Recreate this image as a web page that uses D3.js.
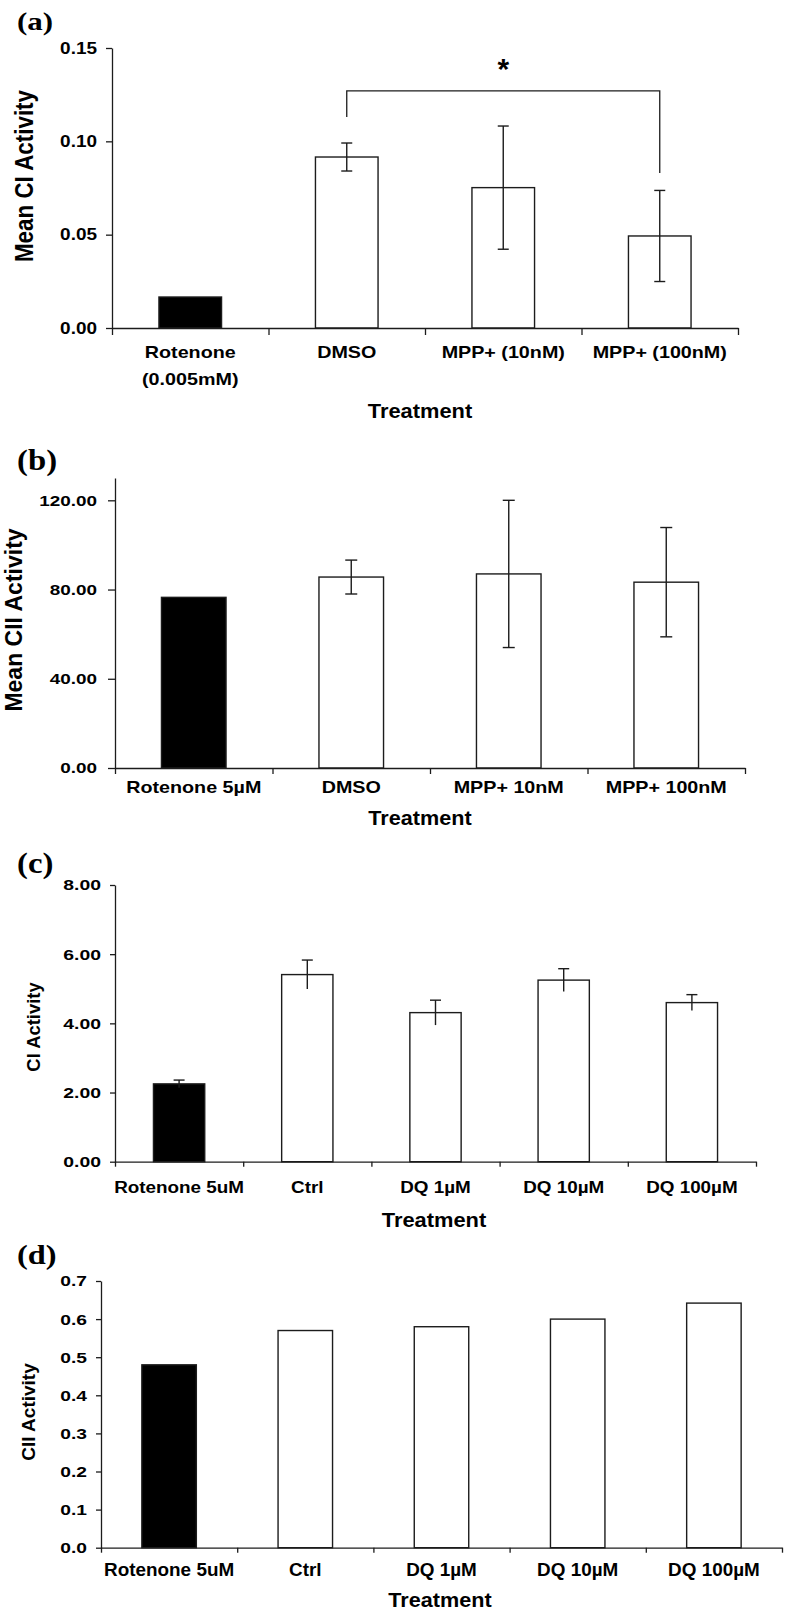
<!DOCTYPE html>
<html>
<head>
<meta charset="utf-8">
<script src="https://cdn.jsdelivr.net/npm/d3@7"></script>
<style>
  body { margin: 0; background: #fff; }
  svg { display: block; }
</style>
</head>
<body>
<div id="mainDiv"></div>
<script>
'use strict';

// ---- data ----
var catsA  = ['Rotenone\n(0.005mM)', 'DMSO', 'MPP+ (10nM)', 'MPP+ (100nM)'];
var meanA  = [0.0166, 0.0916, 0.0752, 0.0493];
var errA   = [null, 0.0075, 0.0330, 0.0244];
var ticksA = [0, 0.05, 0.10, 0.15];
var sigA   = {from: 1, to: 3, level: 0.127, leftEnd: 0.113, rightEnd: 0.083, mark: '*'};

var catsB  = ['Rotenone 5µM', 'DMSO', 'MPP+ 10nM', 'MPP+ 100nM'];
var meanB  = [76.5, 85.6, 87.0, 83.3];
var errB   = [null, 7.6, 33.0, 24.5];
var ticksB = [0, 40, 80, 120];

var catsC  = ['Rotenone 5uM', 'Ctrl', 'DQ 1µM', 'DQ 10µM', 'DQ 100µM'];
var meanC  = [2.25, 5.41, 4.31, 5.25, 4.60];
var errC   = [0.11, 0.42, 0.36, 0.33, 0.23];
var ticksC = [0, 2, 4, 6, 8];

var catsD  = ['Rotenone 5uM', 'Ctrl', 'DQ 1µM', 'DQ 10µM', 'DQ 100µM'];
var meanD  = [0.48, 0.57, 0.58, 0.60, 0.642];
var ticksD = [0, 0.1, 0.2, 0.3, 0.4, 0.5, 0.6, 0.7];

var xTitle = 'Treatment';

var fig = {};
fig.width = 786;
fig.height = 1616;
fig.ink = '#1c1c1c';
fig.sans = '"Liberation Sans", Arial, Helvetica, sans-serif';
fig.serif = '"Liberation Serif", "Times New Roman", serif';

// layout of each panel (pixels)
fig.panels = [
    {letter: '(a)', cats: catsA, means: meanA, errs: errA, ticks: ticksA, yMax: 0.15, fmt: '.2f',
     yTitle: 'Mean CI Activity', sig: sigA,
     x0: 112, x1: 738, y0: 328, yTop: 48, barFrac: 0.40, capW: 11, capBottom: true,
     yTickFs: 16.5, yTickSx: 1.15, yGap: 15, yTickLen: 6,
     xLabFs: 17, xLabSx: 1.16, xLabOff: 30, xLabLine: 27, xTickLen: 7,
     titleFs: 22.4, titleSx: 1.14, titleX: 33, titleY: 176,
     treatFs: 19.5, treatSx: 1.12, treatX: 420, treatY: 418,
     letterFs: 25, letterSx: 1.24, letterX: 17, letterY: 30},
    {letter: '(b)', cats: catsB, means: meanB, errs: errB, ticks: ticksB, yMax: 130, fmt: '.2f',
     yTitle: 'Mean CII Activity',
     x0: 115, x1: 745, y0: 768, yTop: 478, barFrac: 0.41, capW: 12, capBottom: true,
     yTickFs: 15.5, yTickSx: 1.22, yGap: 18, yTickLen: 7,
     xLabFs: 17, xLabSx: 1.16, xLabOff: 25, xLabLine: 0, xTickLen: 6,
     titleFs: 23, titleSx: 1.0, titleX: 22, titleY: 620,
     treatFs: 21, treatSx: 1.03, treatX: 420, treatY: 825,
     letterFs: 29, letterSx: 1.13, letterX: 17, letterY: 470},
    {letter: '(c)', cats: catsC, means: meanC, errs: errC, ticks: ticksC, yMax: 8, fmt: '.2f',
     yTitle: 'CI Activity',
     x0: 115, x1: 756, y0: 1161.7, yTop: 885, barFrac: 0.40, capW: 11, capBottom: false,
     yTickFs: 15.5, yTickSx: 1.25, yGap: 14, yTickLen: 5,
     xLabFs: 17, xLabSx: 1.11, xLabOff: 31, xLabLine: 0, xTickLen: 5,
     titleFs: 18.4, titleSx: 1.0, titleX: 40, titleY: 1027,
     treatFs: 21, treatSx: 1.04, treatX: 434, treatY: 1227,
     letterFs: 29, letterSx: 1.13, letterX: 17, letterY: 873},
    {letter: '(d)', cats: catsD, means: meanD, errs: null, ticks: ticksD, yMax: 0.7, fmt: '.1f',
     yTitle: 'CII Activity',
     x0: 101, x1: 782, y0: 1547.7, yTop: 1281, barFrac: 0.40, capW: 11, capBottom: true,
     yTickFs: 15.5, yTickSx: 1.24, yGap: 14, yTickLen: 5,
     xLabFs: 17.5, xLabSx: 1.08, xLabOff: 28, xLabLine: 0, xTickLen: 5,
     titleFs: 19, titleSx: 1.0, titleX: 35, titleY: 1412,
     treatFs: 21, treatSx: 1.03, treatX: 440, treatY: 1607,
     letterFs: 27, letterSx: 1.2, letterX: 17, letterY: 1264}
];

fig.place = function(x, y, sx) {
    return 'translate(' + x + ',' + y + ') scale(' + sx + ',1)';
};

fig.drawPanel = function(svg, p) {

    var g = svg.append('g');
    var n = p.cats.length;

    var xScale = d3.scaleBand().domain(d3.range(n)).range([p.x0, p.x1]).padding(0);
    var edgeScale = d3.scaleLinear().domain([0, n]).range([p.x0, p.x1]);
    var yScale = d3.scaleLinear().domain([0, p.yMax]).range([p.y0, p.yTop]);
    var barW = xScale.bandwidth() * p.barFrac;
    var cx = function(i) { return xScale(i) + xScale.bandwidth() / 2; };

    // bars
    g.selectAll('rect.bar')
        .data(p.means)
        .enter().append('rect')
        .attr('class', 'bar')
        .attr('x', function(d, i) { return cx(i) - barW / 2; })
        .attr('y', function(d) { return yScale(d); })
        .attr('width', barW)
        .attr('height', function(d) { return p.y0 - yScale(d); })
        .attr('fill', function(d, i) { return i === 0 ? '#000' : '#fff'; })
        .attr('stroke', fig.ink)
        .attr('stroke-width', 1.4);

    // error bars
    if (p.errs) {
        var eb = g.selectAll('g.err')
            .data(p.means.map(function(m, i) { return {i: i, m: m, e: p.errs[i]}; })
                         .filter(function(d) { return d.e != null; }))
            .enter().append('g')
            .attr('class', 'err')
            .attr('stroke', fig.ink)
            .attr('stroke-width', 1.4);
        eb.append('line')
            .attr('x1', function(d) { return cx(d.i); })
            .attr('x2', function(d) { return cx(d.i); })
            .attr('y1', function(d) { return yScale(d.m + d.e); })
            .attr('y2', function(d) { return yScale(d.m - d.e); });
        eb.append('line')
            .attr('x1', function(d) { return cx(d.i) - p.capW / 2; })
            .attr('x2', function(d) { return cx(d.i) + p.capW / 2; })
            .attr('y1', function(d) { return yScale(d.m + d.e); })
            .attr('y2', function(d) { return yScale(d.m + d.e); });
        if (p.capBottom) {
            eb.append('line')
                .attr('x1', function(d) { return cx(d.i) - p.capW / 2; })
                .attr('x2', function(d) { return cx(d.i) + p.capW / 2; })
                .attr('y1', function(d) { return yScale(d.m - d.e); })
                .attr('y2', function(d) { return yScale(d.m - d.e); });
        }
    }

    // y axis
    var yAxis = d3.axisLeft(yScale)
        .tickValues(p.ticks)
        .tickFormat(d3.format(p.fmt))
        .tickSizeInner(p.yTickLen)
        .tickSizeOuter(0);
    var yg = g.append('g')
        .attr('transform', 'translate(' + p.x0 + ',0)')
        .call(yAxis);
    yg.selectAll('path, line').attr('stroke', fig.ink).attr('stroke-width', 1.3);
    yg.selectAll('text')
        .attr('x', -p.yGap / p.yTickSx)
        .attr('transform', 'scale(' + p.yTickSx + ',1)')
        .attr('fill', '#000')
        .style('font-family', fig.sans)
        .style('font-weight', 'bold')
        .style('font-size', p.yTickFs + 'px');

    // x axis line and category separators
    var xg = g.append('g')
        .attr('transform', 'translate(0,' + p.y0 + ')')
        .call(d3.axisBottom(edgeScale).tickValues(d3.range(n + 1)).tickFormat('')
              .tickSizeInner(p.xTickLen).tickSizeOuter(0));
    xg.selectAll('path, line').attr('stroke', fig.ink).attr('stroke-width', 1.3);

    // category labels
    var labels = g.selectAll('text.cat')
        .data(p.cats)
        .enter().append('text')
        .attr('class', 'cat')
        .attr('transform', function(d, i) { return fig.place(cx(i), p.y0 + p.xLabOff, p.xLabSx); })
        .attr('text-anchor', 'middle')
        .style('font-family', fig.sans)
        .style('font-weight', 'bold')
        .style('font-size', p.xLabFs + 'px');
    labels.each(function(d) {
        var t = d3.select(this);
        d.split('\n').forEach(function(line, k) {
            t.append('tspan').attr('x', 0).attr('y', k * p.xLabLine).text(line);
        });
    });

    // axis titles
    g.append('text')
        .attr('transform', fig.place(p.treatX, p.treatY, p.treatSx))
        .attr('text-anchor', 'middle')
        .style('font-family', fig.sans)
        .style('font-weight', 'bold')
        .style('font-size', p.treatFs + 'px')
        .text(xTitle);

    g.append('text')
        .attr('transform', fig.place(p.titleX, p.titleY, p.titleSx) + ' rotate(-90)')
        .attr('text-anchor', 'middle')
        .style('font-family', fig.sans)
        .style('font-weight', 'bold')
        .style('font-size', p.titleFs + 'px')
        .text(p.yTitle);

    // panel letter
    g.append('text')
        .attr('transform', fig.place(p.letterX, p.letterY, p.letterSx))
        .style('font-family', fig.serif)
        .style('font-weight', 'bold')
        .style('font-size', p.letterFs + 'px')
        .text(p.letter);

    // significance bracket
    if (p.sig) {
        var s = p.sig;
        var xa = cx(s.from), xb = cx(s.to), yl = yScale(s.level);
        g.append('path')
            .attr('d', 'M' + xa + ',' + yScale(s.leftEnd) + 'V' + yl + 'H' + xb + 'V' + yScale(s.rightEnd))
            .attr('fill', 'none')
            .attr('stroke', fig.ink)
            .attr('stroke-width', 1.3);
        g.append('text')
            .attr('x', (xa + xb) / 2)
            .attr('y', yl - 12)
            .attr('text-anchor', 'middle')
            .style('font-family', fig.sans)
            .style('font-weight', 'bold')
            .style('font-size', '30px')
            .text(s.mark);
    }
};

fig.start = function() {
    var svg = d3.select('#mainDiv')
        .append('svg')
        .attr('width', fig.width)
        .attr('height', fig.height);
    fig.panels.forEach(function(p) { fig.drawPanel(svg, p); });
};

window.onload = fig.start;
</script>
</body>
</html>
